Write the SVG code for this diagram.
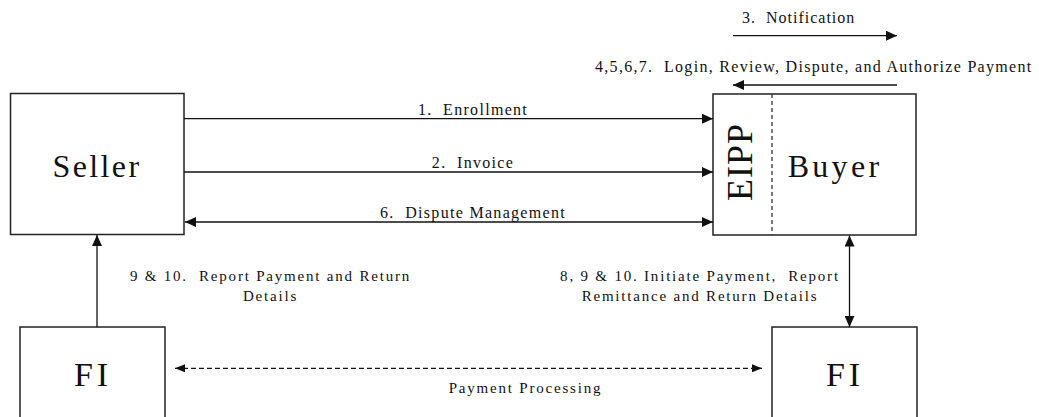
<svg xmlns="http://www.w3.org/2000/svg" width="1039" height="417" viewBox="0 0 1039 417">
<style>
  text { font-family: "Liberation Serif", "Times New Roman", serif; fill: #111; white-space: pre; }
  .box { fill: #fff; stroke: #222; stroke-width: 1.5; }
  .big { font-size: 32px; text-anchor: middle; }
  .lbl { font-size: 16px; letter-spacing: 1.3px; }
  .sm { font-size: 15px; letter-spacing: 1.8px; text-anchor: middle; }
  .c { text-anchor: middle; }
  .ln { stroke: #111; stroke-width: 1.3; fill: none; }
  .dash { stroke-dasharray: 5 3; }
</style>
<defs>
  <marker id="ah" markerUnits="userSpaceOnUse" markerWidth="12" markerHeight="10" refX="11" refY="5" orient="auto-start-reverse">
    <path d="M0,0 L11,5 L0,10 z" fill="#111"/>
  </marker>
  <marker id="ahs" markerUnits="userSpaceOnUse" markerWidth="11" markerHeight="8" refX="10" refY="4" orient="auto-start-reverse">
    <path d="M0,0 L10,4 L0,8 z" fill="#111"/>
  </marker>
</defs>

<g id="seller">
  <rect class="box" x="10.5" y="93.5" width="173.5" height="141"/>
  <text class="big" x="97" y="177" style="letter-spacing:2.4px">Seller</text>
</g>

<g id="buyer">
  <rect class="box" x="713" y="94" width="203" height="141"/>
  <line x1="772" y1="94" x2="772" y2="235" stroke="#333" stroke-width="1.3" stroke-dasharray="4 3"/>
  <text transform="translate(752,162) rotate(-90)" style="font-size:36px;letter-spacing:1px" class="c">EIPP</text>
  <text class="big" x="835" y="176.7" style="letter-spacing:3.3px">Buyer</text>
</g>

<g id="fi-left">
  <rect class="box" x="20" y="327" width="145" height="100"/>
  <text class="big" x="93" y="385.7" style="font-size:34px;letter-spacing:4px">FI</text>
</g>

<g id="fi-right">
  <rect class="box" x="772" y="327" width="145" height="100"/>
  <text class="big" x="845" y="385.7" style="font-size:34px;letter-spacing:4px">FI</text>
</g>

<g id="connectors">
  <path class="ln" d="M184,118.7 H713" marker-end="url(#ah)"/>
  <path class="ln" d="M184,172 H713" marker-end="url(#ah)"/>
  <path class="ln" d="M185,222 H713" marker-start="url(#ah)" marker-end="url(#ah)"/>
  <path class="ln" d="M733,35.7 H897" marker-end="url(#ah)"/>
  <path class="ln" d="M897,85 H733" marker-end="url(#ah)"/>
  <path class="ln" d="M97,327 V235" marker-end="url(#ah)"/>
  <path class="ln" d="M849.5,235.5 V327" marker-start="url(#ah)" marker-end="url(#ah)"/>
  <path class="ln dash" d="M175,368.3 H762" marker-start="url(#ahs)" marker-end="url(#ahs)"/>
</g>

<g id="labels">
  <text class="lbl c" x="473" y="115">1.  Enrollment</text>
  <text class="lbl c" x="473" y="167.7">2.  Invoice</text>
  <text class="lbl c" x="473" y="217.7">6.  Dispute Management</text>
  <text class="lbl" x="742" y="22.7" style="letter-spacing:1px">3.  Notification</text>
  <text class="lbl" x="595" y="72.3">4,5,6,7.  Login, Review, Dispute, and Authorize Payment</text>
  <text class="sm" x="270.5" y="280.7">9 &amp; 10.  Report Payment and Return</text>
  <text class="sm" x="270.5" y="300.7">Details</text>
  <text class="sm" x="700" y="280.7">8, 9 &amp; 10. Initiate Payment,  Report</text>
  <text class="sm" x="700" y="300.7">Remittance and Return Details</text>
  <text class="sm" x="525.5" y="393.3">Payment Processing</text>
</g>
</svg>
